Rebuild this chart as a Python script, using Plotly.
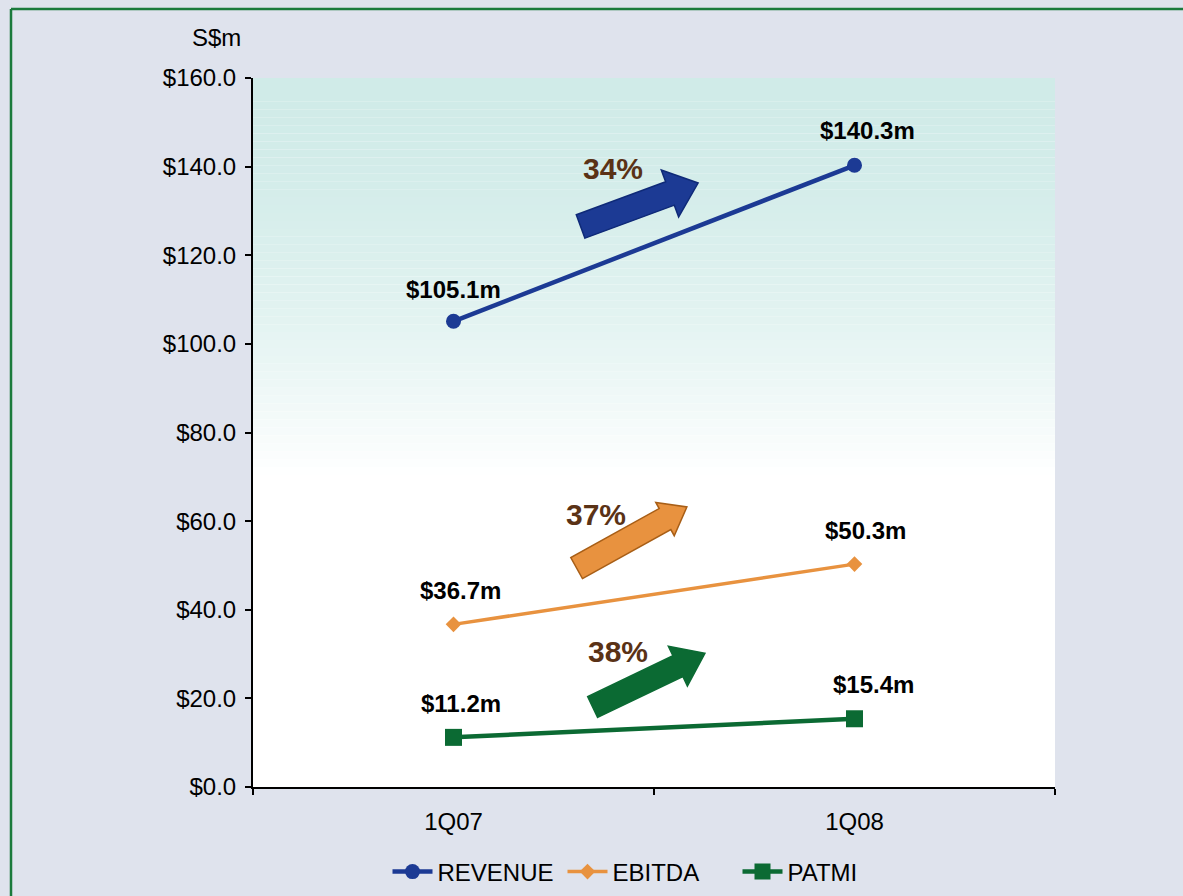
import math
import plotly.graph_objects as go

# ---- data ----
quarters = ["1Q07", "1Q08"]
revenue = [105.1, 140.3]
ebitda = [36.7, 50.3]
patmi = [11.2, 15.4]
growth_labels = ["34%", "37%", "38%"]
y_ticks = [0, 20, 40, 60, 80, 100, 120, 140, 160]

# ---- layout geometry (pixels) ----
W, H = 1183, 896
L, R, T, B = 253, 128, 78, 109
PW, PH = W - L - R, H - T - B
Y_MAX = 160.0
FONT = "Liberation Sans, Arial, sans-serif"

BLUE = "#1c3a94"
ORANGE = "#e8923f"
GREEN = "#0b6a33"
BROWN = "#5a3216"


def to_px(xc, yv):
    """category index / value -> pixel position"""
    return L + (xc + 0.5) * PW / 2.0, T + PH * (1 - yv / Y_MAX)


def px_to_paper(px, py):
    return (px - L) / PW, (T + PH - py) / PH


def arrow_path(tail, tip, shaft_w, head_w, head_len):
    tx, ty = to_px(*tail)
    hx, hy = to_px(*tip)
    dx, dy = hx - tx, hy - ty
    n = math.hypot(dx, dy)
    ux, uy = dx / n, dy / n
    nx, ny = -uy, ux
    bx, by = hx - ux * head_len, hy - uy * head_len
    s, h = shaft_w / 2, head_w / 2
    pts = [
        (tx + nx * s, ty + ny * s),
        (bx + nx * s, by + ny * s),
        (bx + nx * h, by + ny * h),
        (hx, hy),
        (bx - nx * h, by - ny * h),
        (bx - nx * s, by - ny * s),
        (tx - nx * s, ty - ny * s),
    ]
    pp = [px_to_paper(*p) for p in pts]
    return "M " + " L ".join(f"{a:.5f},{b:.5f}" for a, b in pp) + " Z"


fig = go.Figure()

series = [
    ("REVENUE", revenue, BLUE, dict(symbol="circle", size=15), 4.5),
    ("EBITDA", ebitda, ORANGE, dict(symbol="diamond", size=12), 3.5),
    ("PATMI", patmi, GREEN, dict(symbol="square", size=17), 4.5),
]
for name, vals, col, mk, lw in series:
    fig.add_trace(go.Scatter(
        x=quarters, y=vals, name=name, mode="lines+markers",
        line=dict(color=col, width=lw),
        marker=dict(color=col, **mk),
    ))

# value labels above each point
label_shift = {
    "REVENUE": [(0, 32), (13, 35)],
    "EBITDA": [(7, 34), (11, 34)],
    "PATMI": [(7, 34), (19, 34)],
}
annotations = []
for name, vals, col, mk, lw in series:
    for i, v in enumerate(vals):
        xs, ys = label_shift[name][i]
        annotations.append(dict(
            x=quarters[i], y=v, xref="x", yref="y",
            xanchor="center", yanchor="middle",
            text=f"<b>${v:.1f}m</b>", showarrow=False,
            xshift=xs, yshift=ys,
            font=dict(family=FONT, size=24, color="#000000"),
        ))

# growth arrows: (tail, tip) in (category index, value)
arrow_specs = [
    (BLUE, "#0f2a78", (0.317, 126.5), (0.610, 136.3), 25, 50, 30),
    (ORANGE, "#a85e16", (0.307, 49.4), (0.582, 63.2), 24, 38, 25),
    (GREEN, GREEN, (0.347, 18.05), (0.627, 30.2), 23, 44, 30),
]
growth_pos = [(0.397, 139.5), (0.355, 61.6), (0.410, 30.6)]

shapes = []
# plot area gradient: pale teal at the top fading to white
top_c = (0xD0, 0xEB, 0xE8)
n_strips = 50
fade_to = 0.44
for k in range(n_strips):
    y0 = 1 - (1 - fade_to) * k / n_strips
    y1 = 1 - (1 - fade_to) * (k + 1) / n_strips
    t = ((k + 0.5) / n_strips) ** 1.8
    c = tuple(round(a + (255 - a) * t) for a in top_c)
    shapes.append(dict(
        type="rect", xref="paper", yref="paper", x0=0, x1=1, y0=y1, y1=y0,
        fillcolor=f"rgb{c}", line=dict(width=0), layer="below",
    ))

for fill, edge, tail, tip, sw, hw, hl in arrow_specs:
    shapes.append(dict(
        type="path", xref="paper", yref="paper",
        path=arrow_path(tail, tip, sw, hw, hl),
        fillcolor=fill, line=dict(color=edge, width=1.5), layer="above",
    ))

for txt, (gx, gy) in zip(growth_labels, growth_pos):
    annotations.append(dict(
        x=(gx + 0.5) / 2, y=gy / Y_MAX, xref="paper", yref="paper",
        xanchor="center", yanchor="middle",
        text=f"<b>{txt}</b>", showarrow=False,
        font=dict(family=FONT, size=30, color=BROWN),
    ))

# unit label
annotations.append(dict(
    x=(216 - L) / PW, y=(T + PH - 37) / PH, xref="paper", yref="paper",
    xanchor="center", yanchor="middle",
    text="S$m", showarrow=False,
    font=dict(family=FONT, size=24, color="#000000"),
))

# green frame along the left and top edges
gx0, _ = px_to_paper(11, 0)
_, gy0 = px_to_paper(0, 9)
_, gyb = px_to_paper(0, H + 5)
gx1, _ = px_to_paper(W + 5, 0)
shapes.append(dict(type="line", xref="paper", yref="paper",
                   x0=gx0, x1=gx0, y0=gyb, y1=gy0,
                   line=dict(color="#1b7a3c", width=2.5)))
shapes.append(dict(type="line", xref="paper", yref="paper",
                   x0=gx0, x1=gx1, y0=gy0, y1=gy0,
                   line=dict(color="#1b7a3c", width=2.5)))

fig.update_layout(
    template="none",
    width=W, height=H,
    margin=dict(l=L, r=R, t=T, b=B, pad=0, autoexpand=False),
    paper_bgcolor="#dfe3ed",
    plot_bgcolor="#ffffff",
    font=dict(family=FONT, size=24, color="#000000"),
    showlegend=True,
    legend=dict(
        orientation="h", x=(650 - L) / PW, xanchor="center",
        y=(T + PH - 872) / PH, yanchor="middle",
        font=dict(family=FONT, size=24, color="#000000"),
        bgcolor="rgba(0,0,0,0)", borderwidth=0, itemwidth=40, tracegroupgap=0,
        entrywidth=120,
    ),
    xaxis=dict(
        type="category", range=[-0.5, 1.5], tickson="boundaries",
        automargin=False,
        showline=True, linecolor="#000000", linewidth=2,
        ticks="outside", ticklen=6, tickcolor="#000000", tickwidth=2,
        ticklabelstandoff=12,
        showgrid=False, zeroline=False,
        tickfont=dict(family=FONT, size=24, color="#000000"),
    ),
    yaxis=dict(
        range=[0, Y_MAX], tickvals=y_ticks,
        ticktext=[f"${v:.1f}" for v in y_ticks],
        automargin=False,
        showline=True, linecolor="#000000", linewidth=2,
        ticks="outside", ticklen=6, tickcolor="#000000", tickwidth=2,
        ticklabelstandoff=4,
        showgrid=False, zeroline=False,
        tickfont=dict(family=FONT, size=24, color="#000000"),
    ),
    shapes=shapes,
    annotations=annotations,
)

fig.write_html("out.html")
